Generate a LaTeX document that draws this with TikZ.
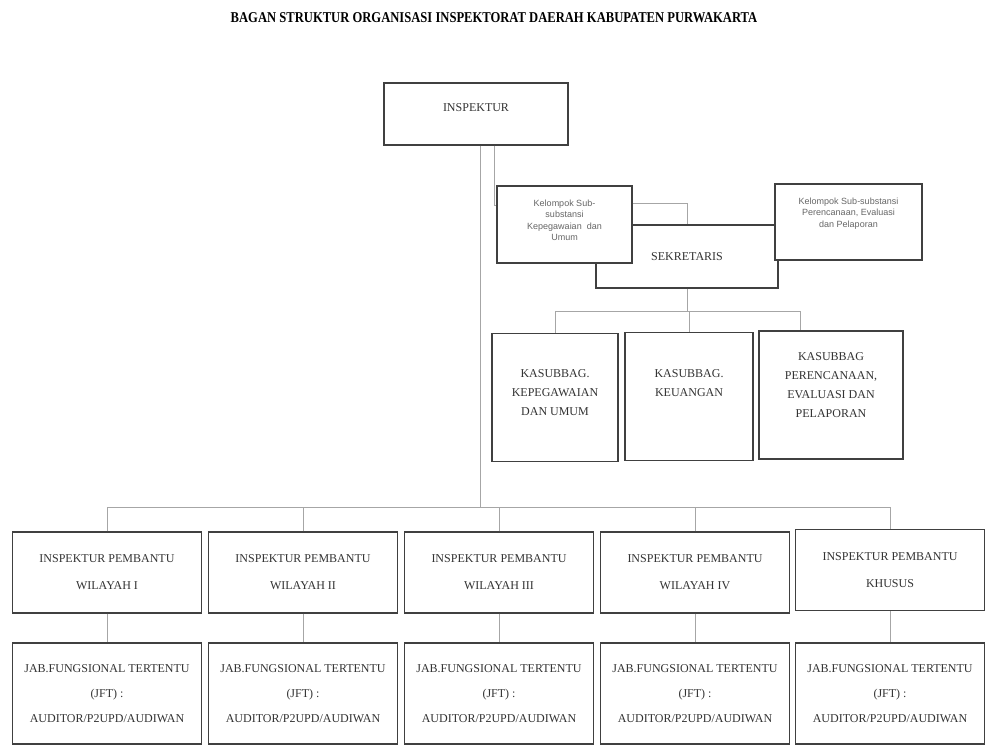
\documentclass[tikz,border=0pt]{standalone}
\usepackage{fontspec}
\setmainfont{Liberation Serif}
\newfontfamily\kelfont{Liberation Sans}
\usepackage{tikz}
\usetikzlibrary{calc,positioning}
\newcommand{\boxline}{1.1pt}
\tikzset{
    node style box/.style={draw=black!75,line width=\boxline,fill=white,align=center,
        text=black!80,font=\fontsize{12}{19}\selectfont,inner sep=2pt},
    node style ipw/.style={node style box,minimum width=189pt,minimum height=81pt,
        font=\fontsize{12}{27}\selectfont},
    node style jft/.style={node style box,minimum width=189pt,minimum height=101pt,
        font=\fontsize{12}{25}\selectfont},
    node style kas/.style={node style box,minimum height=128pt},
    node style kel/.style={node style box,text=black!60,font=\kelfont\fontsize{9}{11.5}\selectfont},
    line style con/.style={draw=gray!70,line width=0.8pt},
}

\begin{document}
\begin{tikzpicture}[x=1pt,y=-1pt]
  \useasboundingbox (0,0) rectangle (985,747);
  \node (title) at (494,18) {\bfseries\fontsize{15}{17}\selectfont
    \scalebox{0.84}[1]{BAGAN STRUKTUR ORGANISASI INSPEKTORAT DAERAH KABUPATEN PURWAKARTA}};

  \node[node style box,minimum width=184pt,minimum height=62pt] (insp) at (476,114) {INSPEKTUR\\[-7pt]};

  % sekretaris sits behind the two kelompok boxes
  \node[node style box,minimum width=182pt,minimum height=63pt] (sekr) at (687,256.5) {SEKRETARIS};
  \node[node style kel,minimum width=135pt,minimum height=77pt] (kel1) at (564.5,224.5)
    {Kelompok Sub-\\substansi\\Kepegawaian\ \ dan\\Umum\\[-2.5pt]};
  \node[node style kel,minimum width=147pt,minimum height=76pt] (kel2) at (848.5,222)
    {Kelompok Sub-substansi\\Perencanaan, Evaluasi\\dan Pelaporan\\[8pt]\mbox{}};

  \node[node style kas,minimum width=126pt] (kas1) at (555,397.5) {KASUBBAG.\\KEPEGAWAIAN\\DAN UMUM\\[-9pt]};
  \node[node style kas,minimum width=128pt] (kas2) at (689,396.5) {KASUBBAG.\\KEUANGAN\\[8pt]\mbox{}};
  \node[node style kas,minimum width=144pt] (kas3) at (831,395) {KASUBBAG\\PERENCANAAN,\\EVALUASI DAN\\PELAPORAN\\\mbox{}};

  \foreach \i/\x/\w in {1/107/I,2/303/II,3/499/III,4/695/IV}
    \node[node style ipw] (ipw\i) at (\x,572.5) {INSPEKTUR PEMBANTU\\WILAYAH \w};
  \node[node style ipw] (ipw5) at (890,570) {INSPEKTUR PEMBANTU\\KHUSUS};

  \foreach \i/\x in {1/107,2/303,3/499,4/695,5/890}
    \node[node style jft] (jft\i) at (\x,693.5) {JAB.FUNGSIONAL TERTENTU\\(JFT) :\\AUDITOR/P2UPD/AUDIWAN};

  \coordinate (busB) at (480,507);
  \coordinate (busK) at (687,311);
  \coordinate (tap) at (494,205);
  \coordinate (k3tap) at (800,311);

  % inspektur
  \draw[line style con] (insp.south -| busB) -- (busB);
  \draw[line style con] (insp.south -| tap) -- (tap) -- (tap -| kel1.west);
  \draw[line style con] (kel1.east |- 0,203) -| (sekr.north);

  % sekretaris to kasubbag
  \draw[line style con] (sekr.south) -- (sekr.south |- busK);
  \draw[line style con] (kas1.north) |- (k3tap) -- (k3tap |- kas3.north);
  \draw[line style con] (kas2.north) -- (kas2.north |- busK);

  % inspektur pembantu
  \draw[line style con] (ipw1.north) -- (ipw1.north |- busB) -- (ipw5.north |- busB) -- (ipw5.north);
  \foreach \i in {2,3,4}
    \draw[line style con] (ipw\i.north) -- (ipw\i.north |- busB);
  \foreach \i in {1,...,5}
    \draw[line style con] (ipw\i.south) -- (jft\i.north);
\end{tikzpicture}
\end{document}
